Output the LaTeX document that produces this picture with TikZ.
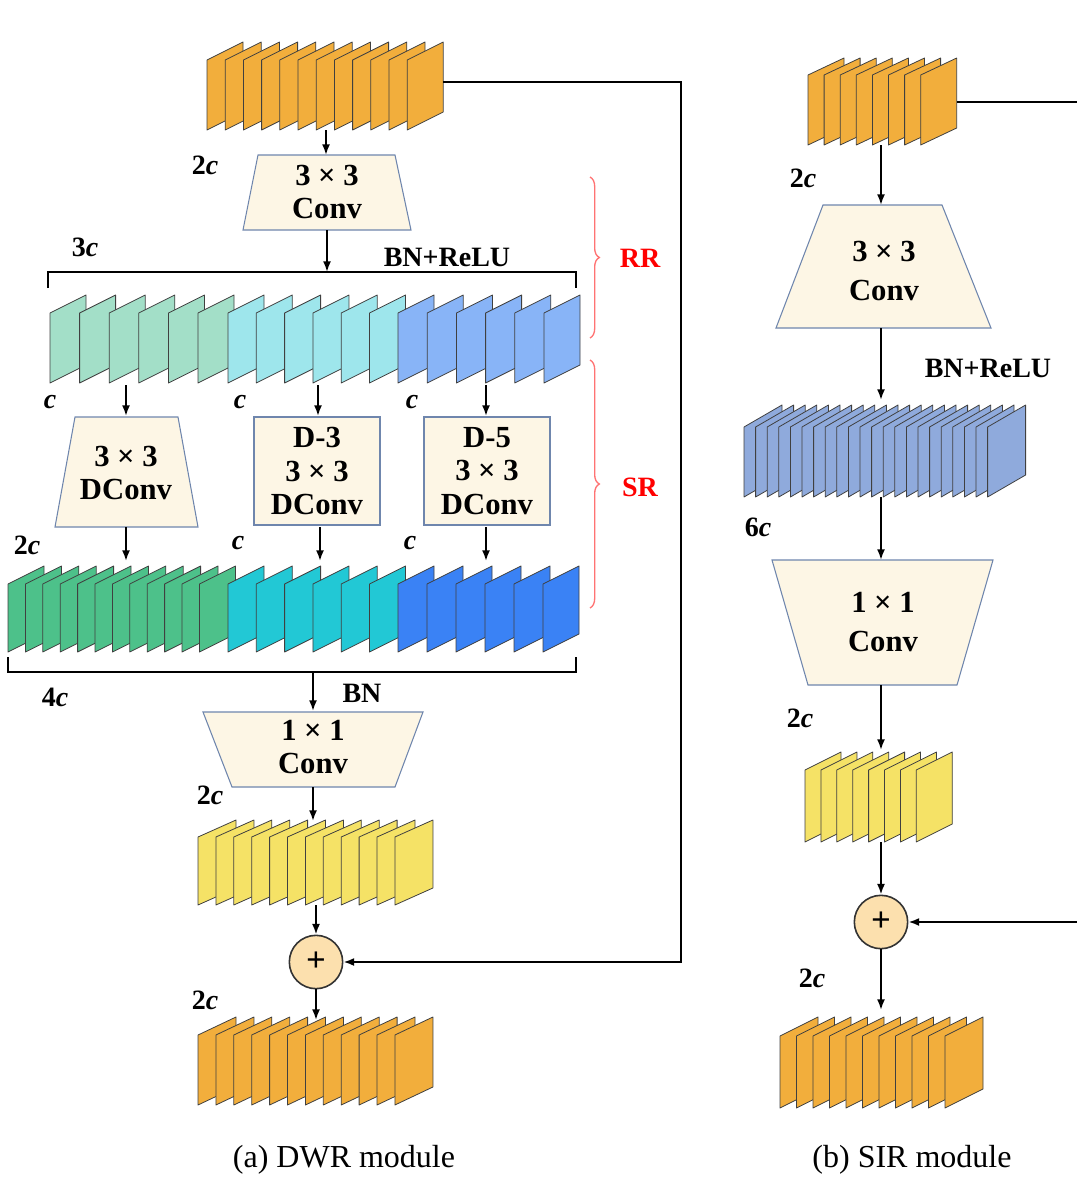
\documentclass[tikz,border=0pt]{standalone}
\usepackage{fontspec}
\setmainfont{Liberation Serif}
\usetikzlibrary{decorations.pathreplacing,arrows.meta}
\newcommand\fmaps[8]{\foreach \i in {0,...,#6}{\draw[fill=#8,draw=black!75,line width=0.6pt,line join=round] ({#1+\i*#7},#2) -- ++(#3,-#5) -- ++(0,-#4) -- ++(-#3,#5) -- cycle;}}
\definecolor{orng}{HTML}{F2AE3C}
\definecolor{ylw}{HTML}{F5E266}
\definecolor{lgreen}{HTML}{A3DFC8}
\definecolor{lcyan}{HTML}{9EE6EC}
\definecolor{lblue}{HTML}{88B4F7}
\definecolor{dgreen}{HTML}{4DC18A}
\definecolor{dcyan}{HTML}{22C8D5}
\definecolor{dblue}{HTML}{3A82F5}
\definecolor{sblue}{HTML}{8FAADC}
\definecolor{boxf}{HTML}{FDF6E5}
\definecolor{boxd}{HTML}{6F86AD}
\definecolor{plusf}{HTML}{FCE0AE}
\tikzset{
  box/.style={fill=boxf,draw=boxd,line width=0.8pt},
  arr/.style={-{Latex[length=8pt,width=6pt]},line width=1.4pt},
  ln/.style={line width=1.4pt},
  lbl/.style={font=\fontsize{21}{24}\selectfont\bfseries,inner sep=0pt},
  btxt/.style={font=\fontsize{23}{25}\selectfont\bfseries,align=center,inner sep=0pt},
  redlbl/.style={font=\fontsize{21}{24}\selectfont\bfseries,text=red,inner sep=0pt},
  rbrace/.style={decorate,decoration={brace,amplitude=7pt},draw=red!55,line width=1pt},
  captxt/.style={font=\fontsize{24}{28}\selectfont,inner sep=0pt},
  plus/.style={circle,fill=plusf,draw=black!80,line width=1.2pt,minimum size=40pt,inner sep=0pt,font=\fontsize{26}{26}\selectfont\bfseries}
}
\newcommand\cc{\textbf{\textit{c}}}
\begin{document}
\begin{tikzpicture}[x=0.75pt,y=-0.75pt]
\useasboundingbox (0,0) rectangle (1077,1185);
% ---------------- DWR ----------------
\fmaps{207}{130}{36}{70}{18}{11}{18.2}{orng}
\draw[box] (258,155) -- (395,155) -- (411,230) -- (243,230) -- cycle;
\node[btxt] (t1) at (327,192) {3 × 3\\Conv};
\draw[ln] (48,288) -- (48,272) -- (576,272) -- (576,288);
\coordinate (b1) at (327,272);
\fmaps{50}{383}{36}{70}{18}{5}{29.6}{lgreen}
\fmaps{228}{383}{36}{70}{18}{5}{28.3}{lcyan}
\fmaps{398}{383}{36}{70}{18}{5}{29.2}{lblue}
\draw[box] (75,417) -- (178,417) -- (198,527) -- (55,527) -- cycle;
\node[btxt] (t2) at (126,473) {3 × 3\\DConv};
\node[box,btxt,minimum width=94.5pt,minimum height=81pt] (r1) at (317,471) {D-3\\3 × 3\\DConv};
\node[box,btxt,minimum width=94.5pt,minimum height=81pt] (r2) at (487,471) {D-5\\3 × 3\\DConv};
\fmaps{8}{652}{36}{68}{18}{11}{17.4}{dgreen}
\fmaps{228}{652}{36}{68}{18}{5}{28.3}{dcyan}
\fmaps{398}{652}{36}{68}{18}{5}{29}{dblue}
\draw[ln] (8,657) -- (8,672) -- (576,672) -- (576,657);
\coordinate (b2) at (313,672);
\draw[box] (203,712) -- (423,712) -- (395,787) -- (232,787) -- cycle;
\node[btxt] (t3) at (313,747) {1 × 1\\Conv};
\fmaps{198}{905}{38}{68}{17}{11}{17.9}{ylw}
\node[plus] (p1) at (316,962) {+};
\fmaps{198}{1105}{38}{70}{18}{11}{17.9}{orng}
% arrows DWR
\coordinate (a0) at (326,130); \coordinate (a1) at (326,155);
\draw[arr] (a0) -- (a1);
\coordinate (a2) at (327,230);
\draw[arr] (a2) -- (b1);
\foreach \x/\n in {126/a,318/b,486/c}{
  \coordinate (u\n) at (\x,385); \coordinate (v\n) at (\x,416);
  \draw[arr] (u\n) -- (v\n);}
\foreach \x/\n in {126/a,320/b,486/c}{
  \coordinate (w\n) at (\x,527); \coordinate (z\n) at (\x,561);
  \draw[arr] (w\n) -- (z\n);}
\coordinate (a3) at (313,711);
\draw[arr] (b2) -- (a3);
\coordinate (a4) at (313,787); \coordinate (a5) at (313,821);
\draw[arr] (a4) -- (a5);
\coordinate (a6) at (316,905);
\draw[arr] (a6) -- (p1.north);
\coordinate (a7) at (316,1020);
\draw[arr] (p1.south) -- (a7);
\coordinate (s0) at (443,82); \coordinate (s1) at (681,82); \coordinate (s2) at (681,962);
\draw[arr] (s0) -- (s1) -- (s2) -- (p1.east);
% labels DWR
\node[lbl] (l1) at (205,165) {2\cc};
\node[lbl] (l2) at (85,247) {3\cc};
\node[lbl] (l3) at (447,257) {BN+ReLU};
\node[lbl] (l4) at (50,402) {\cc};
\node[lbl] (l5) at (240,402) {\cc};
\node[lbl] (l6) at (412,402) {\cc};
\node[lbl] (l7) at (27,545) {2\cc};
\node[lbl] (l8) at (238,543) {\cc};
\node[lbl] (l9) at (410,543) {\cc};
\node[lbl] (l10) at (55,697) {4\cc};
\node[lbl] (l11) at (362,693) {BN};
\node[lbl] (l12) at (210,795) {2\cc};
\node[lbl] (l13) at (205,1000) {2\cc};
\draw[rbrace] (590,177) -- (590,338);
\node[redlbl] (rr) at (640,258) {RR};
\draw[rbrace] (590,360) -- (590,608);
\node[redlbl] (sr) at (640,487) {SR};
\node[captxt] (c1) at (344,1160) {(a) DWR module};
% ---------------- SIR ----------------
\fmaps{808}{145}{36}{70}{17}{7}{16.1}{orng}
\draw[box] (823,205) -- (942,205) -- (991,328) -- (776,328) -- cycle;
\node[btxt] (t4) at (884,271) {3 × 3\\[4pt]Conv};
\fmaps{744}{497}{38}{70}{22}{21}{11.6}{sblue}
\draw[box] (772,560) -- (993,560) -- (957,685) -- (808,685) -- cycle;
\node[btxt] (t5) at (883,622) {1 × 1\\[4pt]Conv};
\fmaps{805}{842}{36}{72}{18}{7}{15.9}{ylw}
\node[plus] (p2) at (881,922) {+};
\fmaps{780}{1108}{38}{72}{19}{10}{16.5}{orng}
\coordinate (q0) at (881,145); \coordinate (q1) at (881,205);
\draw[arr] (q0) -- (q1);
\coordinate (q2) at (881,328); \coordinate (q3) at (881,400);
\draw[arr] (q2) -- (q3);
\coordinate (q4) at (881,497); \coordinate (q5) at (881,560);
\draw[arr] (q4) -- (q5);
\coordinate (q6) at (881,685); \coordinate (q7) at (881,750);
\draw[arr] (q6) -- (q7);
\coordinate (q8) at (881,842);
\draw[arr] (q8) -- (p2.north);
\coordinate (q9) at (881,1010);
\draw[arr] (p2.south) -- (q9);
\coordinate (k0) at (957,102); \coordinate (k1) at (1077,102);
\draw[ln] (k0) -- (k1);
\coordinate (k2) at (1077,922);
\draw[arr] (k2) -- (p2.east);
\node[lbl] (m1) at (803,178) {2\cc};
\node[lbl] (m2) at (988,368) {BN+ReLU};
\node[lbl] (m3) at (758,527) {6\cc};
\node[lbl] (m4) at (800,718) {2\cc};
\node[lbl] (m5) at (812,978) {2\cc};
\node[captxt] (c2) at (912,1160) {(b) SIR module};
\end{tikzpicture}
\end{document}
